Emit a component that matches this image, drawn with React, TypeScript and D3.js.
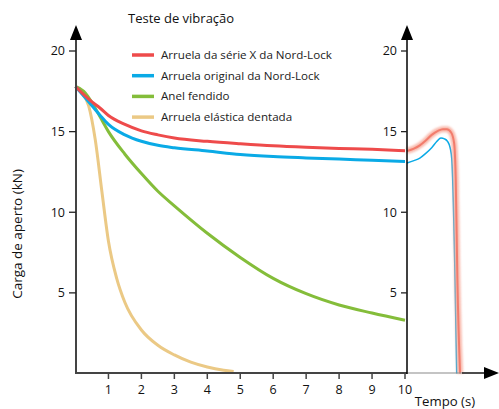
import React from "react";
import * as d3 from "d3";

const title = "Teste de vibração";
const yTitle = "Carga de aperto (kN)";
const xTitle = "Tempo (s)";
const seriesNames = [
  "Arruela da série X da Nord-Lock",
  "Arruela original da Nord-Lock",
  "Anel fendido",
  "Arruela elástica dentada",
];
const seriesColors = ["#ee4b4b", "#0aaae6", "#84bd3a", "#ebc985"];

const xTicks = [1, 2, 3, 4, 5, 6, 7, 8, 9, 10];
const yTicks = [5, 10, 15, 20];

const timeLeft = [0, 0.25, 0.5, 0.75, 1, 1.5, 2, 2.5, 3, 4, 5, 6, 7, 8, 9, 10];
const redLeft = [17.8, 17.3, 16.85, 16.45, 16.0, 15.45, 15.05, 14.8, 14.6, 14.4, 14.25, 14.12, 14.03, 13.96, 13.9, 13.82];
const blueLeft = [17.8, 17.2, 16.6, 16.0, 15.45, 14.8, 14.4, 14.15, 14.0, 13.8, 13.58, 13.45, 13.37, 13.3, 13.22, 13.15];
const greenLeft = [17.8, 17.5, 16.8, 15.9, 15.0, 13.6, 12.4, 11.3, 10.4, 8.7, 7.2, 5.9, 4.95, 4.25, 3.75, 3.3];

const timeYellow = [0, 0.2, 0.4, 0.6, 0.8, 1.0, 1.25, 1.5, 2, 2.5, 3, 3.5, 4, 4.5, 4.8];
const yellowLeft = [17.8, 17.4, 16.6, 14.5, 11.3, 8.2, 5.9, 4.4, 2.7, 1.75, 1.15, 0.7, 0.4, 0.2, 0.12];

const timeBlueRight = [10.06, 10.27, 10.45, 10.63, 10.81, 10.97, 11.09, 11.2, 11.29, 11.37, 11.42, 11.52, 11.57];
const blueRight = [13.05, 13.2, 13.36, 13.65, 14.0, 14.4, 14.6, 14.55, 14.4, 14.0, 13.3, 5.8, 0];

const timeRedRight = [10.06, 10.27, 10.45, 10.63, 10.81, 11.0, 11.15, 11.27, 11.4, 11.49, 11.54, 11.59, 11.67];
const redRight = [13.8, 13.95, 14.15, 14.45, 14.8, 15.05, 15.15, 15.15, 14.95, 14.3, 12.0, 5.8, 0];

const W = 499;
const H = 409;

export default function App() {
  const x = d3.scaleLinear().domain([0, 10]).range([75.5, 405]);
  const y = d3.scaleLinear().domain([0, 20]).range([373.5, 51]);
  const leftAxisX = 76;
  const rightAxisX = 407;
  const baseY = 373;

  const mk = (xs: number[], ys: number[]) =>
    d3
      .line<number>()
      .x((_, i) => x(xs[i]))
      .y((d) => y(d))
      .curve(d3.curveMonotoneX)(ys) as string;

  const font = "'Open Sans', 'Noto Sans', sans-serif";

  return (
    <svg
      width={W}
      height={H}
      style={{ position: "absolute", left: 0, top: 0, background: "#fff" }}
      fontFamily={font}
    >
      <defs>
        <filter id="glow" x="-20%" y="-20%" width="140%" height="140%">
          <feGaussianBlur stdDeviation="0.9" />
        </filter>
      </defs>

      {/* title */}
      <text x={128} y={23} fontSize={13} fill="#111">
        {title}
      </text>

      {/* legend */}
      {seriesNames.map((n, i) => (
        <g key={n} transform={`translate(0, ${55 + i * 20.7})`}>
          <line x1={132} x2={154} y1={0} y2={0} stroke={seriesColors[i]} strokeWidth={3.5} />
          <text x={161} y={0} dy="0.35em" fontSize={11.6} fill="#222">
            {n}
          </text>
        </g>
      ))}

      {/* curves left */}
      <path d={mk(timeYellow, yellowLeft)} fill="none" stroke={seriesColors[3]} strokeWidth={3} />
      <path d={mk(timeLeft, greenLeft)} fill="none" stroke={seriesColors[2]} strokeWidth={3} />
      <path d={mk(timeLeft, blueLeft)} fill="none" stroke={seriesColors[1]} strokeWidth={3} />
      <path d={mk(timeLeft, redLeft)} fill="none" stroke={seriesColors[0]} strokeWidth={3} />

      {/* curves right */}
      <path d={mk(timeBlueRight, blueRight)} fill="none" stroke={seriesColors[1]} strokeWidth={1.5} />
      <path
        d={mk(timeRedRight, redRight)}
        fill="none"
        stroke="#f7a898"
        strokeWidth={6}
        opacity={0.8}
        filter="url(#glow)"
      />
      <path d={mk(timeRedRight, redRight)} fill="none" stroke="#f27c6c" strokeWidth={2} />

      {/* x axis */}
      <line x1={leftAxisX} x2={rightAxisX} y1={baseY} y2={baseY} stroke="#444" strokeWidth={2} />
      <line x1={rightAxisX} x2={462} y1={baseY} y2={baseY} stroke="#8a8a8a" strokeWidth={1.2} />
      <line x1={462} x2={486} y1={baseY} y2={baseY} stroke="#111" strokeWidth={1.5} />
      <path d={`M499,${baseY} L484,${baseY - 6} L484,${baseY + 6} Z`} fill="#000" />
      {xTicks.map((t) => (
        <g key={t}>
          <line x1={x(t)} x2={x(t)} y1={baseY} y2={baseY + 6} stroke="#444" strokeWidth={1.5} />
          <text x={x(t)} y={390} dy="0.35em" textAnchor="middle" fontSize={12.5} fill="#111">
            {t}
          </text>
        </g>
      ))}
      <text x={445} y={401} dy="0.35em" textAnchor="middle" fontSize={13.2} fill="#111">
        {xTitle}
      </text>

      {/* left y axis */}
      <line x1={leftAxisX} x2={leftAxisX} y1={38} y2={baseY + 1} stroke="#444" strokeWidth={2} />
      <path d={`M${leftAxisX},25 L${leftAxisX - 6},40 L${leftAxisX + 6},40 Z`} fill="#000" />
      {yTicks.map((t) => (
        <g key={t}>
          <line x1={leftAxisX - 7} x2={leftAxisX} y1={y(t)} y2={y(t)} stroke="#222" strokeWidth={1.3} />
          <text x={65} y={y(t)} dy="0.35em" textAnchor="end" fontSize={12.5} fill="#111">
            {t}
          </text>
        </g>
      ))}
      <text
        transform={`translate(17, 234) rotate(-90)`}
        textAnchor="middle"
        dy="0.35em"
        fontSize={13.5}
        fill="#111"
      >
        {yTitle}
      </text>

      {/* right y axis */}
      <line x1={rightAxisX} x2={rightAxisX} y1={38} y2={baseY + 1} stroke="#000" strokeWidth={1.5} />
      <path d={`M${rightAxisX},25 L${rightAxisX - 6},40 L${rightAxisX + 6},40 Z`} fill="#000" />
      {yTicks.map((t) => (
        <g key={`r${t}`}>
          <line x1={rightAxisX - 6} x2={rightAxisX} y1={y(t)} y2={y(t)} stroke="#222" strokeWidth={1.3} />
          <text x={397} y={y(t)} dy="0.35em" textAnchor="end" fontSize={12.5} fill="#111">
            {t}
          </text>
        </g>
      ))}
    </svg>
  );
}
